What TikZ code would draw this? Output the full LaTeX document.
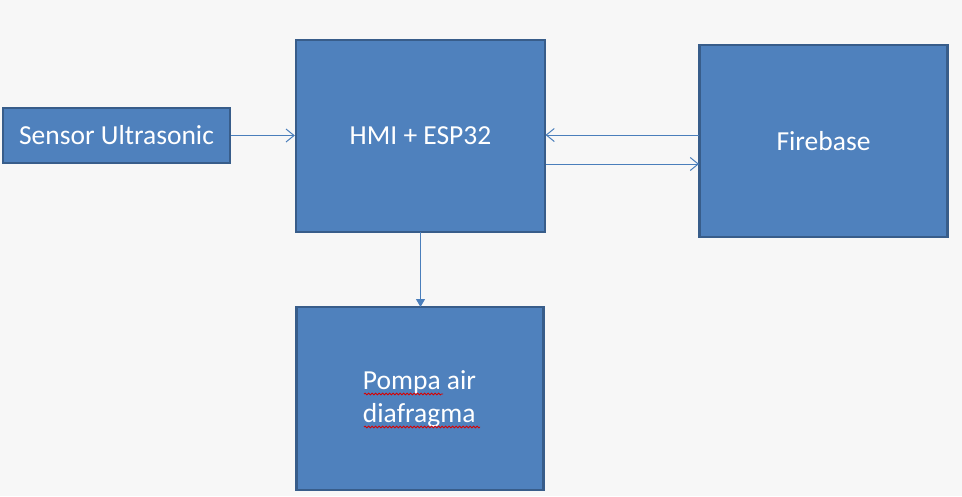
\documentclass[tikz,border=0pt]{standalone}
\usepackage{fontspec}
\setmainfont{Carlito}
\usetikzlibrary{arrows.meta,decorations.pathmorphing}
\definecolor{bg}{HTML}{F7F7F7}
\definecolor{boxfill}{HTML}{4F81BD}
\definecolor{boxline}{HTML}{385D8A}
\definecolor{arrowc}{HTML}{4A7EBB}
\tikzset{
  blockbox/.style={draw=boxline, line width=2.4pt, fill=boxfill, text=white, inner sep=0pt, font=\fontsize{27.5}{33}\selectfont, align=center},
  conn/.style={draw=arrowc, line width=1pt},
  openarrow/.style={-{Straight Barb[length=8pt,width=13pt,line width=1pt]}},
  filledarrow/.style={-{Triangle[length=8pt,width=9pt]}},
  squiggle/.style={draw=red!85!black, line width=0.8pt, decorate, decoration={snake, amplitude=0.9pt, segment length=3.5pt}}
}
\begin{document}
\begin{tikzpicture}[x=1pt,y=-1pt]
\useasboundingbox[fill=bg] (0,0) rectangle (962,496);
\node[blockbox, minimum width=227pt, minimum height=55pt] (sensor) at (116.5,135.5) {Sensor Ultrasonic};
\node[blockbox, minimum width=249pt, minimum height=192pt] (hmi) at (420.5,136) {HMI + ESP32};
\node[blockbox, minimum width=248pt, minimum height=192pt] (fire) at (823.5,141) {Firebase};
\node[blockbox, minimum width=247pt, minimum height=183pt] (pompa) at (420,398.5) {};
\node[text=white, font=\fontsize{27.5}{33}\selectfont, align=left, inner sep=0pt] (ptext) at (419.5,399) {Pompa air\\diafragma};
\coordinate (u1a) at (364,394);
\coordinate (u1b) at (443,394);
\coordinate (u2a) at (364,427);
\coordinate (u2b) at (480,427);
\draw[squiggle] (u1a) -- (u1b);
\draw[squiggle] (u2a) -- (u2b);
\coordinate (fb1) at (699,135);
\coordinate (hm1) at (545.5,135);
\coordinate (hm2) at (545.5,164);
\coordinate (fb2) at (699,164);
\coordinate (down1) at (420.5,232);
\coordinate (down2) at (420.5,307);
\draw[conn, openarrow] (sensor.east) -- (sensor.east -| hmi.west);
\draw[conn, openarrow] (fb1) -- (hm1);
\draw[conn, openarrow] (hm2) -- (fb2);
\draw[conn, filledarrow] (down1) -- (down2);
\end{tikzpicture}
\end{document}
